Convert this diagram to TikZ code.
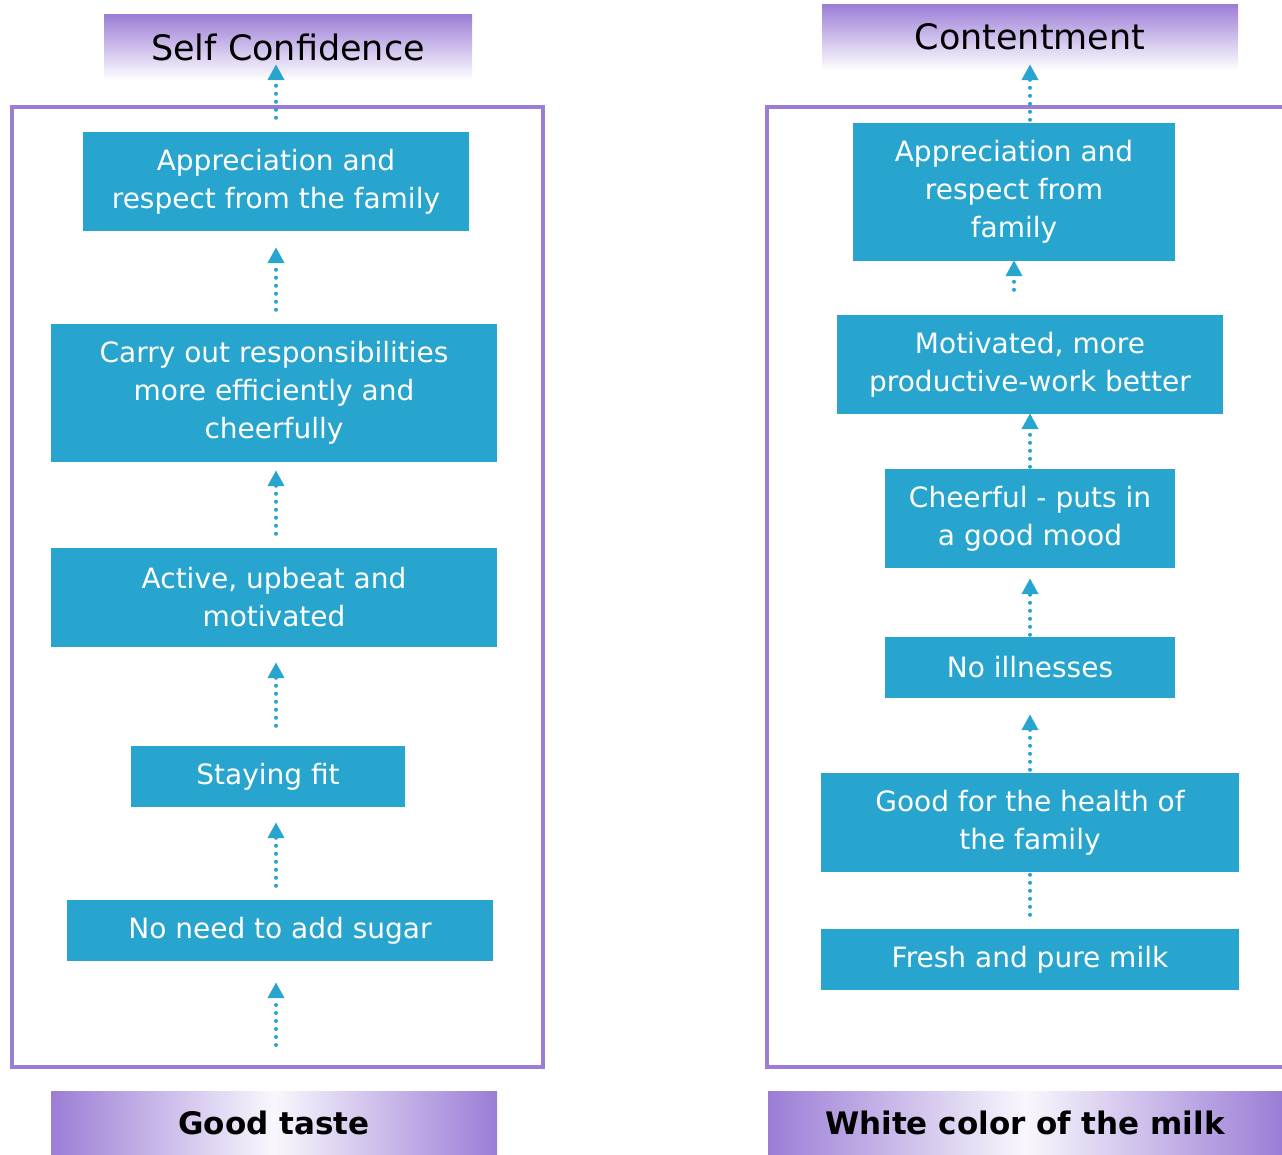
\documentclass[tikz,border=0pt]{standalone}
\usepackage{fontspec}
\setmainfont{DejaVu Sans}
\usetikzlibrary{arrows.meta}
\definecolor{boxblue}{HTML}{28A5CE}
\definecolor{lilac}{HTML}{9B7DD6}
\begin{document}
\begin{tikzpicture}[x=1pt,y=-1pt,
    box/.style={fill=boxblue,text=white,align=center,inner sep=0pt,font=\fontsize{28}{38}\selectfont},
    goal/.style={top color=lilac,bottom color=white,inner sep=0pt,font=\fontsize{35}{40}\selectfont},
    base/.style={left color=lilac,right color=lilac,middle color=lilac!6,inner sep=0pt,font=\fontsize{31}{36}\bfseries\selectfont},
    dots/.style={boxblue,line width=4pt,dash pattern=on 0pt off 8pt,line cap=round},
    flow/.style={dots,-{Triangle[width=16pt,length=16pt]}}]
    \useasboundingbox (0,0) rectangle (1282,1154);
    % frames
    \draw[lilac,line width=4pt] (12,107) rectangle (543,1067);
    \draw[lilac,line width=4pt] (1292,107) -- (767,107) -- (767,1067) -- (1292,1067);
    % left chain
    \node[goal,minimum width=368,minimum height=66] (lh) at (288,47) {Self Confidence};
    \node[box,minimum width=386,minimum height=99] (l1) at (276,181.5) {Appreciation and\\respect from the family};
    \node[box,minimum width=446,minimum height=138] (l2) at (274,393) {Carry out responsibilities\\more efficiently and\\cheerfully};
    \node[box,minimum width=446,minimum height=99] (l3) at (274,597.5) {Active, upbeat and\\motivated};
    \node[box,minimum width=274,minimum height=61] (l4) at (268,776.5) {Staying fit};
    \node[box,minimum width=426,minimum height=61] (l5) at (280,930.5) {No need to add sugar};
    \node[base,minimum width=446,minimum height=63] (lb) at (274,1122.5) {Good taste};
    \coordinate (ls) at (276,1045);
    \draw[flow,shorten >=21pt] (ls) -- (l5.south -| ls);
    \draw[flow,shorten <=14pt,shorten >=15pt] (l5.north -| ls) -- (l4.south -| ls);
    \draw[flow,shorten <=20pt,shorten >=15pt] (l4.north -| ls) -- (l3.south -| ls);
    \draw[flow,shorten <=14pt,shorten >=8pt] (l3.north -| ls) -- (l2.south -| ls);
    \draw[flow,shorten <=14pt,shorten >=16pt] (l2.north -| ls) -- (l1.south -| ls);
    \draw[flow,shorten <=14pt,shorten >=-16pt] (l1.north -| ls) -- (lh.south -| ls);
    % right chain
    \node[goal,minimum width=416,minimum height=66] (rh) at (1030,37) {Contentment};
    \node[box,minimum width=322,minimum height=138] (r1) at (1014,192) {Appreciation and\\respect from\\family};
    \node[box,minimum width=386,minimum height=99] (r2) at (1030,364.5) {Motivated, more\\productive-work better};
    \node[box,minimum width=290,minimum height=99] (r3) at (1030,518.5) {Cheerful - puts in\\a good mood};
    \node[box,minimum width=290,minimum height=61] (r4) at (1030,667.5) {No illnesses};
    \node[box,minimum width=418,minimum height=99] (r5) at (1030,822.5) {Good for the health of\\the family};
    \node[box,minimum width=418,minimum height=61] (r6) at (1030,959.5) {Fresh and pure milk};
    \node[base,minimum width=514,minimum height=63] (rb) at (1025,1122.5) {White color of the milk};
    \draw[dots,shorten <=14pt,shorten >=1pt] (r6.north) -- (r5.south);
    \draw[flow,shorten <=3pt,shorten >=16pt] (r5.north) -- (r4.south);
    \draw[flow,shorten <=2pt,shorten >=10pt] (r4.north) -- (r3.south);
    \draw[flow,shorten <=2pt,shorten >=-1pt] (r3.north) -- (r2.south);
    \draw[flow,shorten <=25pt,shorten >=-1pt] (r2.north -| r1) -- (r1.south);
    \draw[flow,shorten <=3pt,shorten >=-6pt] (r1.north -| rh) -- (rh.south);
\end{tikzpicture}
\end{document}
